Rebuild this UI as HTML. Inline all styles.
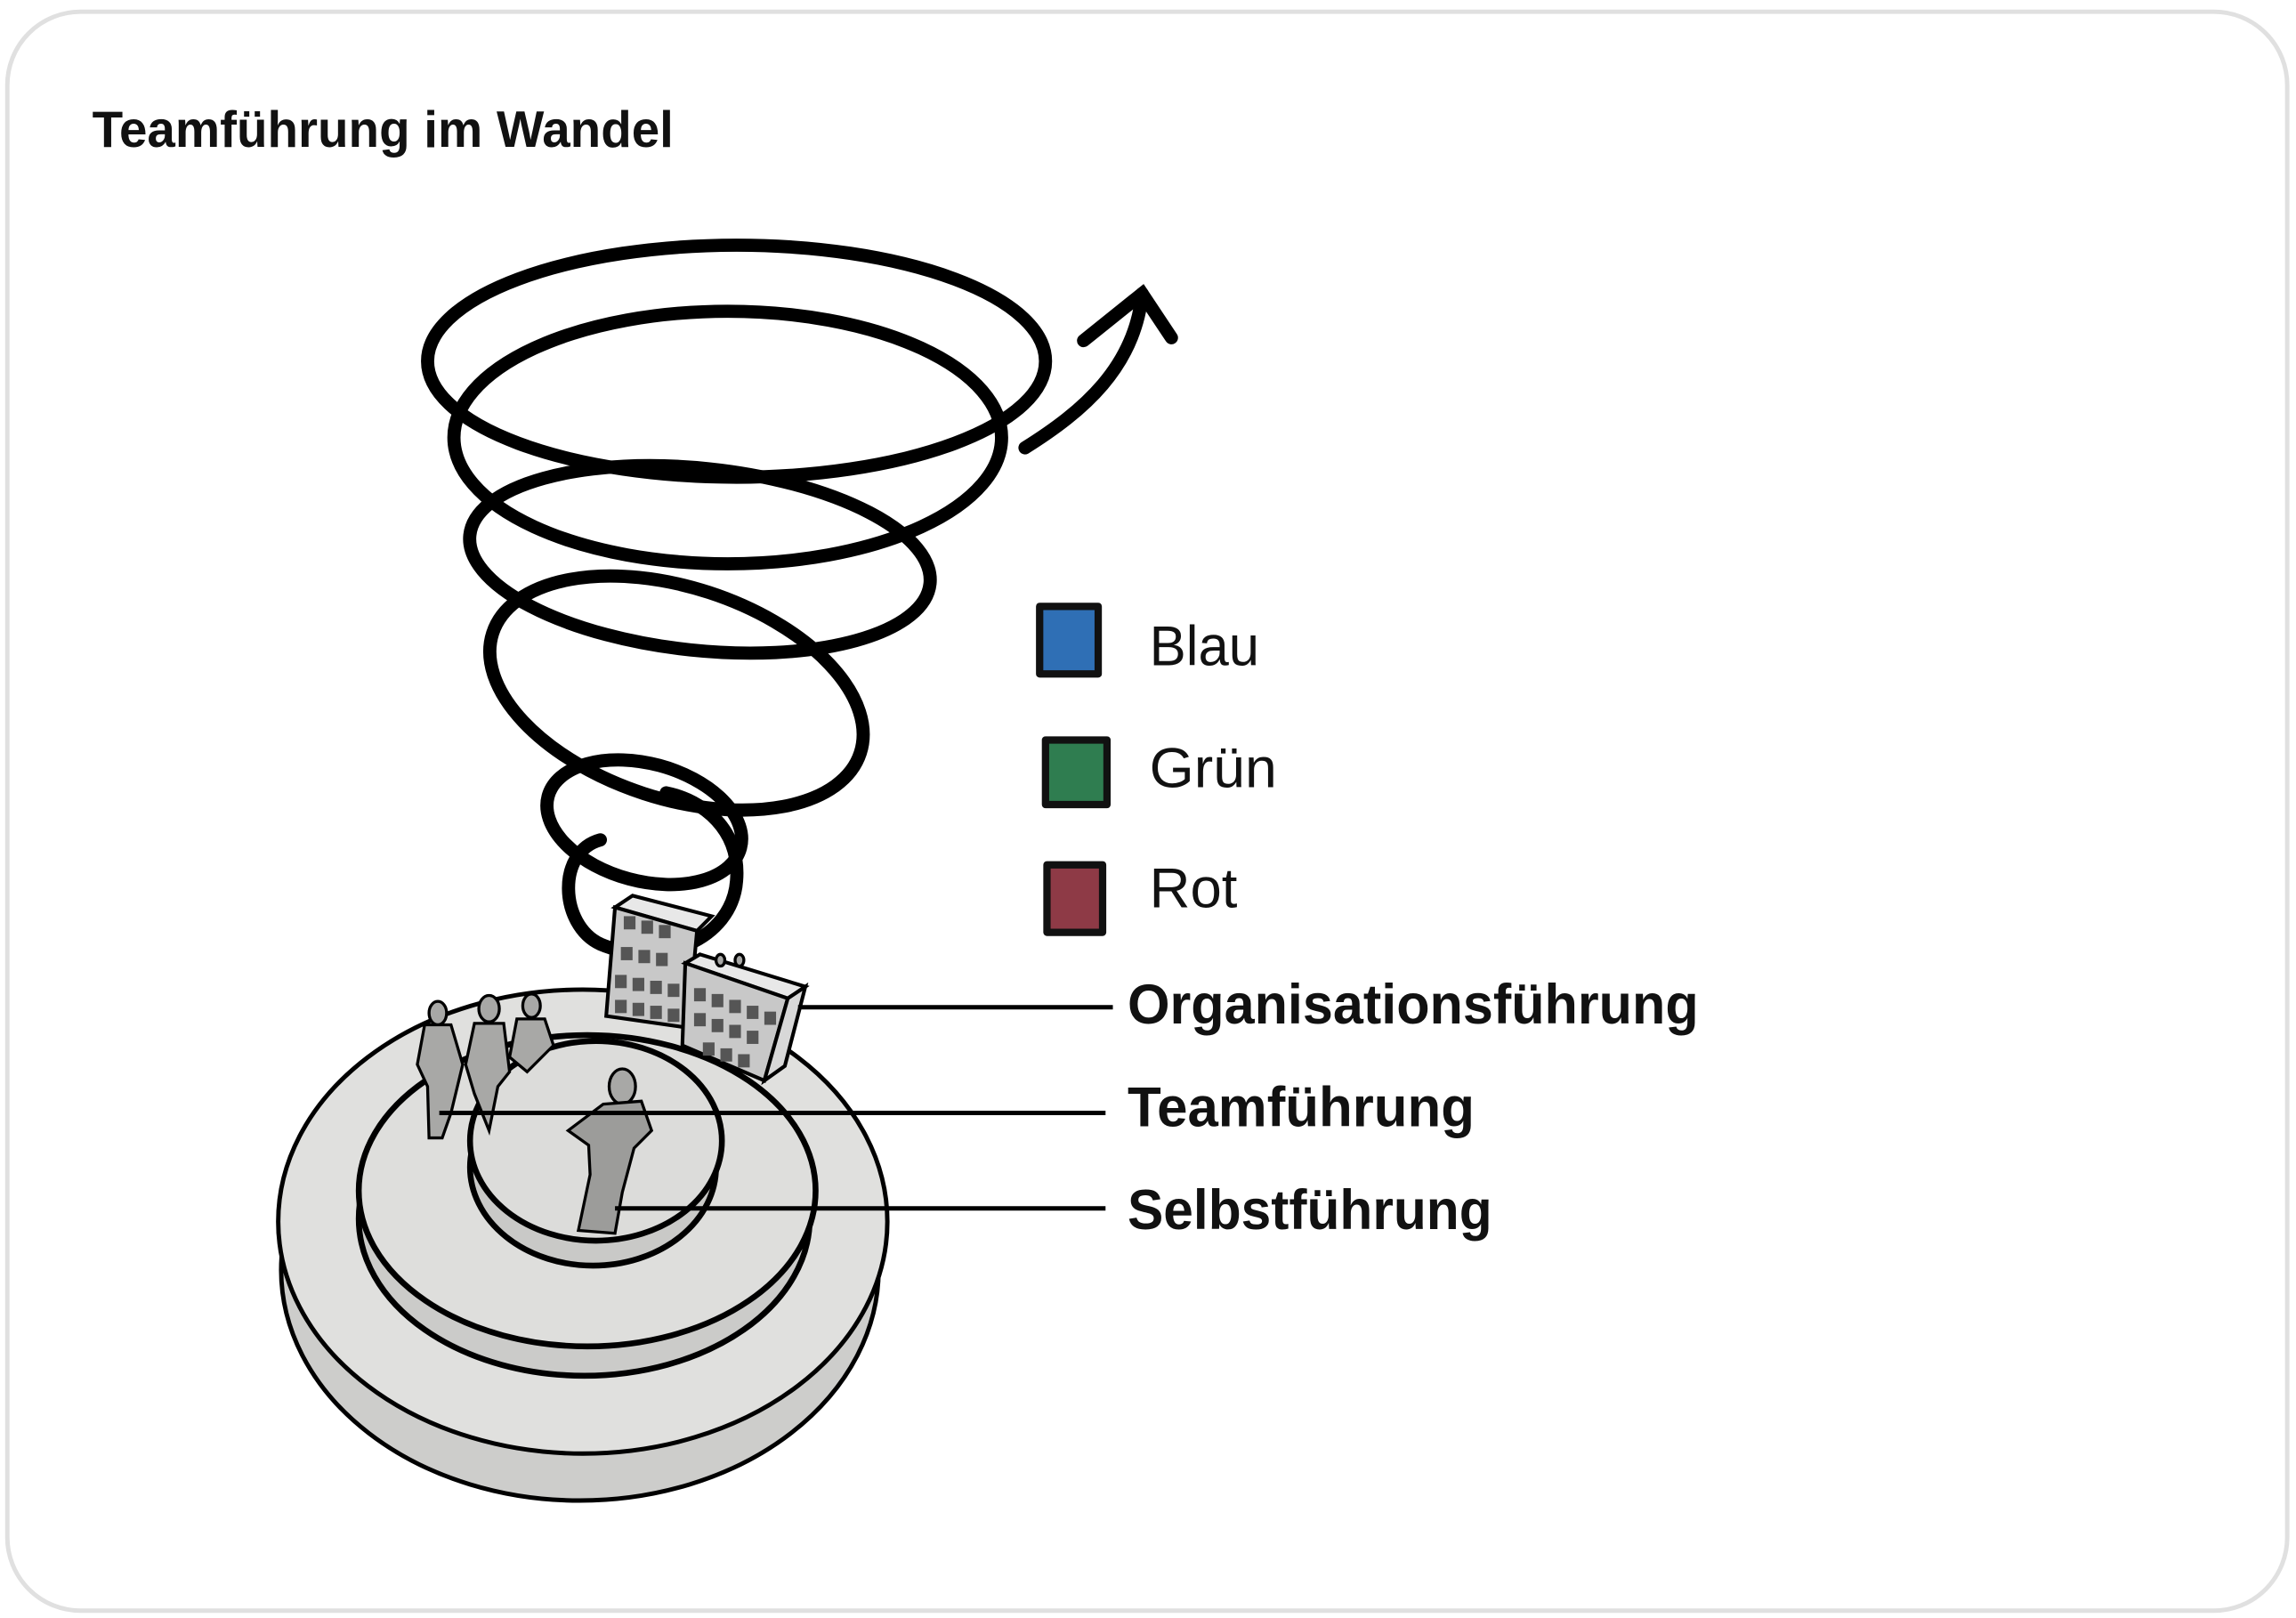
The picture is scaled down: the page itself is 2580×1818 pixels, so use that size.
<!DOCTYPE html>
<html><head><meta charset="utf-8"><style>
html,body{margin:0;padding:0;background:#fff;}
svg{display:block;}
text{font-family:"Liberation Sans",sans-serif;}
</style></head><body>
<svg width="2580" height="1818" viewBox="0 0 1568 1102" preserveAspectRatio="none" xmlns="http://www.w3.org/2000/svg">
<rect x="5" y="8" width="1557" height="1089" rx="50" fill="#fff" stroke="#e0e0e0" stroke-width="3"/>
<text x="63" y="100" font-size="35" font-weight="bold" fill="#111" textLength="397" lengthAdjust="spacingAndGlyphs">Teamführung im Wandel</text>

<!-- spiral -->
<g fill="none" stroke="#000" stroke-width="9" stroke-linecap="round">
<ellipse cx="503" cy="246" rx="211" ry="79"/>
<ellipse cx="497" cy="298" rx="187" ry="86"/>
<ellipse cx="478" cy="381" rx="158" ry="62" transform="rotate(6 478 381)"/>
<ellipse cx="462" cy="472" rx="132" ry="72" transform="rotate(18 462 472)"/>
<ellipse cx="440" cy="560" rx="68" ry="40" transform="rotate(15 440 560)"/>
<path d="M410 572 C380 580 382 630 410 643 C450 660 500 640 503 600 C506 565 480 545 455 540"/>
<path d="M700 305 C740 280 775 250 780 200"/>
<path d="M740 232 L780 200 L800 230"/>
</g>

<!-- disc -->
<g stroke="#000" stroke-width="3">
<ellipse cx="396" cy="865" rx="204" ry="157" fill="#cdcdcb"/>
<ellipse cx="398" cy="832" rx="208" ry="158" fill="#e0e0de"/>
<ellipse cx="399" cy="830" rx="154" ry="107" fill="#cbcbc9" stroke-width="4"/>
<ellipse cx="401" cy="811" rx="156" ry="106" fill="#dededc" stroke-width="4"/>
<ellipse cx="405" cy="795" rx="84" ry="67" fill="#c9c9c7" stroke-width="4"/>
<ellipse cx="407" cy="777" rx="86" ry="68" fill="#dcdcda" stroke-width="4"/>
</g>

<!-- building -->
<g stroke="#000" stroke-width="2.5">
<polygon points="420,618 432,610 486,624 476,634" fill="#e8e8e8"/>
<polygon points="420,618 476,634 470,700 414,692" fill="#c8c8c8"/>
<polygon points="468,656 478,650 550,672 538,680" fill="#e8e8e8"/>
<polygon points="468,656 538,680 522,736 466,712" fill="#c8c8c8"/>
<polygon points="538,680 550,672 536,726 522,736" fill="#d8d8d8"/>
</g>
<g fill="#555">
<rect x="426" y="624" width="8" height="9"/><rect x="438" y="627" width="8" height="9"/><rect x="450" y="630" width="8" height="9"/>
<rect x="424" y="645" width="8" height="9"/><rect x="436" y="647" width="8" height="9"/><rect x="448" y="649" width="8" height="9"/>
<rect x="420" y="664" width="8" height="9"/><rect x="432" y="666" width="8" height="9"/><rect x="444" y="668" width="8" height="9"/><rect x="456" y="670" width="8" height="9"/>
<rect x="420" y="681" width="8" height="9"/><rect x="432" y="683" width="8" height="9"/><rect x="444" y="685" width="8" height="9"/><rect x="456" y="687" width="8" height="9"/>
<rect x="474" y="673" width="8" height="9"/><rect x="486" y="677" width="8" height="9"/><rect x="498" y="681" width="8" height="9"/><rect x="510" y="685" width="8" height="9"/><rect x="522" y="689" width="8" height="9"/>
<rect x="474" y="690" width="8" height="9"/><rect x="486" y="694" width="8" height="9"/><rect x="498" y="698" width="8" height="9"/><rect x="510" y="702" width="8" height="9"/>
<rect x="480" y="710" width="8" height="9"/><rect x="492" y="714" width="8" height="9"/><rect x="504" y="718" width="8" height="9"/>
</g>

<!-- people -->
<g fill="#a8a8a6" stroke="#000" stroke-width="2">
<ellipse cx="299" cy="690" rx="6" ry="8"/>
<path d="M290 698 L308 698 L316 725 L308 758 L302 775 L293 775 L292 740 L285 725 Z"/>
<ellipse cx="334" cy="687" rx="7" ry="9"/>
<path d="M324 697 L344 697 L348 730 L340 740 L334 770 L324 745 L318 725 Z"/>
<ellipse cx="363" cy="685" rx="6" ry="8"/>
<path d="M353 694 L372 694 L378 712 L360 730 L348 720 Z"/>
<ellipse cx="492" cy="654" rx="3" ry="4"/><ellipse cx="505" cy="654" rx="3" ry="4"/>
<ellipse cx="425" cy="740" rx="9" ry="12"/>
<path d="M412 752 L438 750 L445 770 L433 782 L425 812 L420 840 L395 838 L403 800 L402 780 L388 770 Z" fill="#9c9c9a"/>
</g>

<!-- leader lines -->
<g stroke="#000" stroke-width="3">
<line x1="545" y1="686" x2="760" y2="686"/>
<line x1="300" y1="758" x2="755" y2="758"/>
<line x1="420" y1="823" x2="755" y2="823"/>
</g>
<g font-size="38" font-weight="bold" fill="#111">
<text x="770" y="697" textLength="390" lengthAdjust="spacingAndGlyphs">Organisationsführung</text>
<text x="770" y="767" textLength="237" lengthAdjust="spacingAndGlyphs">Teamführung</text>
<text x="770" y="837" textLength="249" lengthAdjust="spacingAndGlyphs">Selbstführung</text>
</g>

<!-- legend -->
<g stroke="#111" stroke-width="5" stroke-linejoin="round">
<rect x="710" y="413" width="40" height="46" fill="#2f6fb5"/>
<rect x="714" y="504" width="42" height="44" fill="#2f7d50"/>
<rect x="715" y="589" width="38" height="46" fill="#8e3a46"/>
</g>
<g font-size="38" fill="#111">
<text x="785" y="453" textLength="75" lengthAdjust="spacingAndGlyphs">Blau</text>
<text x="785" y="536" textLength="87" lengthAdjust="spacingAndGlyphs">Grün</text>
<text x="785" y="618" textLength="60" lengthAdjust="spacingAndGlyphs">Rot</text>
</g>
</svg>
</body></html>
